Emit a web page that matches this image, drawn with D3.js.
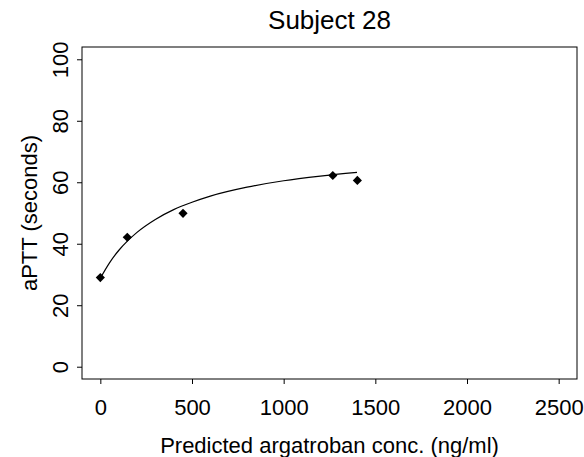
<!DOCTYPE html>
<html><head><meta charset="utf-8">
<script src="https://cdn.jsdelivr.net/npm/d3@7"></script>
<style>body{margin:0;background:#fff}svg text{font-family:"Liberation Sans",Arial,sans-serif;fill:#000}</style>
</head><body><svg id="c" width="584" height="457"></svg>
<script>
// observed data
const conc = [0, 147, 451, 1268, 1402];
const aptt = [29.0, 42.1, 49.9, 62.2, 60.6];
// fitted curve
const curveConc = [0, 50, 100, 150, 200, 300, 400, 500, 600, 800, 1000, 1200, 1400];
const curveAptt = [28.8, 33.8, 37.8, 41.0, 43.7, 47.9, 51.1, 53.5, 55.5, 58.4, 60.5, 62.0, 63.2];
const xTicks = [0, 500, 1000, 1500, 2000, 2500];
const yTicks = [0, 20, 40, 60, 80, 100];
const title = "Subject 28";
const xLabel = "Predicted argatroban conc. (ng/ml)";
const yLabel = "aPTT (seconds)";

const svg = d3.select("#c");
const L = 82, R = 577, T = 47, B = 379;
const x = d3.scaleLinear().domain([-100, 2600]).range([L, R]);
const y = d3.scaleLinear().domain([-4, 104]).range([B, T]);

svg.append("rect").attr("x", L).attr("y", T).attr("width", R - L).attr("height", B - T)
  .attr("fill", "none").attr("stroke", "#000").attr("stroke-width", 1);

const xa = svg.append("g").attr("transform", `translate(0,${B})`)
  .call(d3.axisBottom(x).tickValues(xTicks).tickSize(5).tickPadding(17).tickFormat(d3.format("d")));
xa.select(".domain").remove();
xa.selectAll("text").attr("font-size", 22).attr("dy", null).attr("y", 36);

const ya = svg.append("g").attr("transform", `translate(${L},0)`)
  .call(d3.axisLeft(y).tickValues(yTicks).tickSize(5).tickFormat(d3.format("d")));
ya.select(".domain").remove();
ya.selectAll("text").attr("font-size", 22).attr("x", null).attr("dy", null)
  .attr("text-anchor", "middle")
  .attr("transform", "translate(-14,0) rotate(-90)");

svg.append("text").attr("x", (L + R) / 2).attr("y", 29).attr("text-anchor", "middle")
  .attr("font-size", 26).text(title);
svg.append("text").attr("x", (L + R) / 2).attr("y", 453).attr("text-anchor", "middle")
  .attr("font-size", 22).text(xLabel);
svg.append("text").attr("transform", `translate(37,${(T + B) / 2}) rotate(-90)`)
  .attr("text-anchor", "middle").attr("font-size", 22).text(yLabel);

const line = d3.line().x(d => x(d[0])).y(d => y(d[1])).curve(d3.curveMonotoneX);
svg.append("path").datum(curveConc.map((c, i) => [c, curveAptt[i]]))
  .attr("d", line).attr("fill", "none").attr("stroke", "#000").attr("stroke-width", 1.2);

const sym = d3.symbol().type(d3.symbolSquare).size(42);
svg.selectAll(".pt").data(conc.map((c, i) => [c, aptt[i]])).enter().append("path")
  .attr("d", sym).attr("fill", "#000")
  .attr("transform", d => `translate(${x(d[0])},${y(d[1])}) rotate(45)`);
</script></body></html>
